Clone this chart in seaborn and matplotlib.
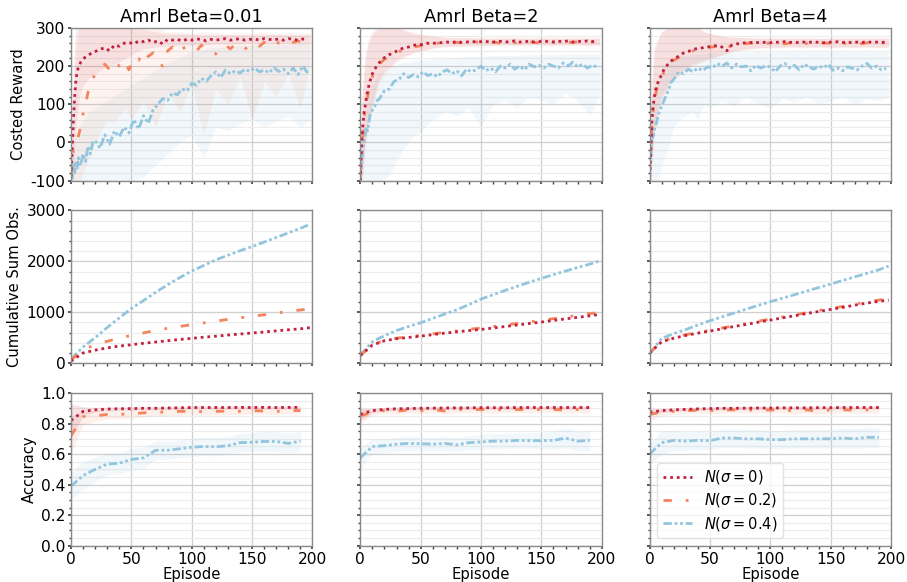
import numpy as np
import pandas as pd
import matplotlib
matplotlib.use("Agg")
import matplotlib.pyplot as plt
from matplotlib.ticker import MultipleLocator
from matplotlib.lines import Line2D
import seaborn as sns

# ---------------- data ----------------
columns = ["Amrl Beta=0.01", "Amrl Beta=2", "Amrl Beta=4"]
series = [r"$N(\sigma=0)$", r"$N(\sigma=0.2)$", r"$N(\sigma=0.4)$"]
row_labels = ["Costed Reward", "Cumulative Sum Obs.", "Accuracy"]

# Costed reward (episode grid)
xr = [0, 1, 2, 3, 4, 5, 6, 8, 10, 12, 14, 16, 18] + list(range(20, 200, 4))
rew_b001_s0 = [-90, -20, 60, 120, 160, 185, 195, 210, 218, 224, 228, 232, 236,
               238, 244, 248, 240, 255, 252, 260, 262, 258, 266, 264, 268, 262, 266, 258, 270,
               268, 270, 266, 270, 268, 271, 270, 266, 270, 268, 270, 272, 268, 270, 272, 268,
               270, 271, 268, 272, 270, 269, 271, 268, 272, 270, 268, 271, 269]
rew_b001_s2 = [-85, -60, -20, -15, -10, 0, 15, 40, 75, 100, 130, 150, 165,
               180, 195, 205, 190, 210, 200, 215, 190, 222, 215, 240, 225, 235, 210, 200, 240,
               250, 235, 245, 252, 248, 240, 255, 245, 235, 232, 248, 255, 245, 258, 250, 244,
               256, 260, 252, 262, 258, 250, 262, 265, 258, 262, 266, 262, 266]
rew_b001_s4 = [-85, -95, -60, -80, -50, -70, -40, -60, -30, -50, -10, -30, 0,
               5, -15, 20, -5, 30, 15, 40, 25, 60, 35, 70, 50, 85, 100, 115, 110,
               130, 125, 140, 135, 155, 150, 168, 160, 175, 185, 170, 190, 180, 188, 182, 192,
               186, 195, 185, 190, 182, 196, 186, 192, 180, 195, 178, 200, 182]
rew_b2_s0 = [-100, -10, 40, 75, 95, 115, 135, 160, 180, 192, 202, 210, 218,
             222, 230, 236, 242, 248, 250, 254, 257, 256, 260, 259, 262, 261, 263, 262, 264,
             262, 263, 265, 263, 264, 265, 262, 264, 265, 263, 264, 266, 263, 264, 265, 263,
             264, 266, 264, 263, 265, 264, 266, 263, 265, 264, 266, 264, 265]
rew_b2_s2 = [-90, -30, 20, 60, 85, 105, 120, 150, 172, 185, 198, 205, 212,
             218, 225, 232, 238, 242, 246, 250, 252, 255, 256, 258, 260, 259, 261, 260, 262,
             261, 262, 260, 263, 262, 261, 263, 262, 260, 263, 262, 261, 263, 262, 264, 262,
             261, 263, 262, 264, 262, 261, 263, 262, 264, 262, 263, 264, 262]
rew_b2_s4 = [-100, -60, -20, 0, 20, 40, 30, 70, 85, 95, 110, 115, 125,
             135, 140, 160, 165, 180, 170, 178, 172, 185, 175, 180, 172, 185, 190, 180, 188,
             175, 192, 185, 190, 200, 188, 195, 185, 200, 195, 205, 192, 200, 190, 205, 198,
             202, 195, 205, 200, 195, 208, 200, 210, 198, 205, 195, 202, 198]
rew_b4_s0 = [-90, -30, 60, 95, 120, 137, 150, 165, 178, 192, 200, 208, 214,
             218, 226, 234, 238, 244, 246, 248, 250, 252, 254, 250, 240, 255, 258, 260, 261,
             262, 261, 263, 262, 261, 263, 262, 264, 262, 263, 261, 263, 262, 264, 262, 261,
             263, 262, 264, 262, 263, 261, 263, 262, 264, 262, 263, 262, 263]
rew_b4_s2 = [-80, -20, 50, 90, 110, 125, 140, 158, 170, 185, 195, 205, 210,
             215, 222, 230, 235, 240, 244, 246, 249, 250, 252, 254, 245, 255, 257, 258, 259,
             260, 258, 260, 259, 261, 259, 260, 258, 261, 259, 260, 258, 261, 260, 259, 261,
             260, 258, 261, 260, 259, 261, 260, 259, 261, 260, 258, 261, 260]
rew_b4_s4 = [-100, -40, 24, 10, 35, 42, 55, 80, 95, 110, 125, 140, 158,
             165, 185, 180, 192, 185, 195, 188, 198, 195, 207, 200, 208, 195, 205, 198, 200,
             188, 202, 195, 200, 198, 185, 200, 207, 195, 202, 190, 205, 198, 192, 200, 195,
             205, 189, 195, 188, 198, 194, 190, 200, 207, 195, 200, 190, 194]

# reward spread bands (lower / upper)
xb = [0, 2, 4, 7, 10, 15, 20, 25, 30, 35, 40, 45, 50, 60, 70, 80, 90, 100,
      110, 120, 130, 140, 150, 160, 170, 180, 190, 198]
rew_b001_s0_lo = [-100, -60, 40, 120, 150, 170, 180, 190, 200, 205, 210, 220, 230, 245,
                  250, 252, 255, 255, 255, 258, 258, 258, 260, 260, 258, 260, 258, 258]
rew_b001_s0_hi = [-40, 180, 300, 300, 300, 300, 300, 300, 300, 300, 300, 300, 300, 295,
                  290, 285, 285, 283, 282, 282, 283, 282, 282, 282, 283, 282, 282, 282]
rew_b001_s2_lo = [-100, -100, -100, -100, -80, -40, 0, 30, 60, 50, 70, 90, 60, 110,
                  40, 130, 80, 150, 20, 140, 100, 170, 60, 160, 120, 180, 90, 200]
rew_b001_s2_hi = [0, 100, 250, 300, 300, 300, 300, 300, 300, 300, 300, 300, 300, 300,
                  300, 290, 290, 285, 290, 288, 285, 288, 286, 290, 285, 288, 285, 288]
rew_b001_s4_lo = [-100, -100, -100, -100, -100, -100, -100, -100, -100, -100, -100, -100, -100, -90,
                  -60, -30, 0, 20, -40, 40, 30, 50, 60, 40, 55, 70, 40, 60]
rew_b001_s4_hi = [-40, -10, 20, 40, 60, 80, 90, 100, 110, 120, 130, 140, 150, 170,
                  190, 210, 220, 240, 245, 250, 250, 255, 255, 258, 255, 258, 260, 255]
rew_b2_s0_lo = [-100, -80, 0, 60, 100, 160, 190, 200, 215, 225, 230, 238, 240, 248,
                252, 253, 254, 255, 255, 256, 255, 256, 256, 255, 256, 256, 255, 256]
rew_b2_s0_hi = [0, 150, 230, 270, 290, 300, 300, 300, 300, 295, 290, 285, 282, 278,
                275, 274, 274, 274, 273, 274, 274, 273, 274, 274, 273, 274, 274, 274]
rew_b2_s2_lo = [-100, -100, -20, 40, 90, 150, 180, 195, 210, 220, 228, 235, 238, 246,
                250, 251, 252, 253, 253, 254, 253, 254, 254, 253, 254, 254, 253, 254]
rew_b2_s2_hi = [-20, 120, 210, 260, 280, 300, 300, 300, 300, 298, 292, 288, 285, 280,
                276, 275, 275, 274, 274, 274, 275, 274, 274, 274, 275, 274, 274, 274]
rew_b2_s4_lo = [-100, -100, -100, -100, -100, -100, -100, -80, -50, -20, 0, 20, 30, 60,
                80, 70, 90, 40, 100, 110, 90, 120, 110, 100, 130, 110, 70, 120]
rew_b2_s4_hi = [-40, 30, 80, 120, 150, 180, 190, 200, 205, 210, 210, 215, 215, 220,
                220, 222, 225, 225, 228, 228, 228, 230, 230, 230, 232, 232, 232, 232]
rew_b4_s0_lo = [-100, -40, 30, 90, 120, 150, 170, 180, 195, 205, 210, 215, 220, 230,
                240, 245, 248, 250, 250, 251, 250, 251, 250, 251, 250, 251, 250, 251]
rew_b4_s0_hi = [-20, 160, 250, 270, 290, 300, 300, 300, 300, 300, 300, 290, 285, 278,
                276, 275, 274, 274, 274, 274, 274, 273, 274, 274, 274, 274, 274, 274]
rew_b4_s2_lo = [-100, -60, 20, 80, 110, 140, 165, 175, 190, 200, 205, 212, 218, 228,
                238, 243, 246, 248, 248, 249, 248, 249, 248, 249, 248, 249, 248, 249]
rew_b4_s2_hi = [-10, 150, 240, 270, 290, 300, 300, 300, 300, 300, 300, 292, 286, 278,
                275, 274, 273, 273, 273, 273, 273, 272, 273, 273, 273, 273, 273, 273]
rew_b4_s4_lo = [-100, -100, -100, -100, -60, -20, 40, 60, 70, 80, 60, 100, 90, 110,
                95, 120, 100, 90, 115, 105, 120, 100, 110, 120, 100, 115, 110, 120]
rew_b4_s4_hi = [-20, 80, 120, 160, 190, 210, 220, 225, 228, 230, 232, 232, 235, 235,
                236, 236, 237, 236, 237, 238, 237, 236, 238, 238, 237, 238, 238, 238]

# Cumulative sum of observations
xc = list(range(0, 200, 10)) + [198]
cum_b001_s0 = [40, 200, 255, 300, 335, 362, 390, 415, 440, 465, 487, 510, 530, 552, 572, 592, 612, 635, 655, 675, 697]
cum_b001_s2 = [60, 263, 360, 430, 490, 546, 595, 640, 685, 720, 757, 790, 825, 860, 890, 921, 950, 985, 1015, 1045, 1066]
cum_b001_s4 = [80, 316, 500, 700, 890, 1072, 1230, 1390, 1540, 1680, 1810, 1920, 2030, 2120, 2210, 2290, 2380, 2470, 2560, 2650, 2730]
cum_b2_s0 = [150, 354, 440, 480, 505, 530, 560, 590, 615, 640, 662, 690, 720, 750, 780, 807, 840, 870, 900, 930, 957]
cum_b2_s2 = [150, 360, 450, 490, 520, 545, 575, 605, 635, 665, 690, 720, 750, 780, 810, 840, 875, 905, 940, 975, 990]
cum_b2_s4 = [157, 420, 540, 640, 720, 793, 880, 965, 1050, 1150, 1259, 1345, 1430, 1510, 1590, 1666, 1740, 1810, 1880, 1945, 2007]
cum_b4_s0 = [200, 420, 490, 545, 590, 630, 675, 720, 760, 805, 846, 890, 930, 975, 1015, 1056, 1095, 1140, 1180, 1215, 1239]
cum_b4_s2 = [200, 430, 500, 560, 605, 645, 690, 735, 780, 825, 865, 905, 950, 990, 1035, 1075, 1115, 1160, 1200, 1240, 1265]
cum_b4_s4 = [180, 485, 580, 660, 750, 833, 910, 985, 1060, 1135, 1207, 1275, 1345, 1415, 1485, 1554, 1625, 1695, 1765, 1835, 1908]

# Accuracy
xa = list(range(0, 200, 10))
acc_b001_s0 = [0.82, 0.88, 0.89, 0.895, 0.897, 0.898, 0.90, 0.90, 0.902, 0.903, 0.905, 0.905, 0.905, 0.905, 0.906, 0.905, 0.906, 0.905, 0.906, 0.906]
acc_b001_s2 = [0.72, 0.845, 0.85, 0.86, 0.86, 0.865, 0.87, 0.875, 0.875, 0.88, 0.88, 0.878, 0.88, 0.882, 0.88, 0.885, 0.882, 0.88, 0.885, 0.885]
acc_b001_s4 = [0.39, 0.46, 0.50, 0.535, 0.54, 0.565, 0.575, 0.625, 0.625, 0.635, 0.645, 0.65, 0.648, 0.655, 0.675, 0.678, 0.683, 0.683, 0.67, 0.685]
acc_b2_s0 = [0.86, 0.885, 0.893, 0.897, 0.898, 0.90, 0.901, 0.902, 0.903, 0.903, 0.904, 0.904, 0.904, 0.905, 0.905, 0.905, 0.905, 0.905, 0.905, 0.905]
acc_b2_s2 = [0.85, 0.875, 0.885, 0.88, 0.89, 0.885, 0.89, 0.883, 0.892, 0.89, 0.893, 0.888, 0.893, 0.892, 0.89, 0.893, 0.893, 0.888, 0.893, 0.89]
acc_b2_s4 = [0.575, 0.65, 0.655, 0.665, 0.67, 0.668, 0.665, 0.67, 0.66, 0.675, 0.68, 0.685, 0.685, 0.69, 0.688, 0.688, 0.69, 0.705, 0.685, 0.69]
acc_b4_s0 = [0.875, 0.885, 0.89, 0.893, 0.896, 0.898, 0.90, 0.90, 0.901, 0.902, 0.902, 0.903, 0.903, 0.903, 0.904, 0.904, 0.905, 0.905, 0.905, 0.905]
acc_b4_s2 = [0.86, 0.875, 0.88, 0.885, 0.887, 0.885, 0.888, 0.89, 0.888, 0.89, 0.889, 0.89, 0.883, 0.89, 0.88, 0.89, 0.89, 0.888, 0.89, 0.89]
acc_b4_s4 = [0.60, 0.675, 0.69, 0.685, 0.69, 0.688, 0.705, 0.705, 0.70, 0.70, 0.695, 0.695, 0.70, 0.70, 0.70, 0.70, 0.705, 0.70, 0.71, 0.71]
# accuracy spread (half width)
acc_b001_s0_sd = [0.11, 0.03, 0.015, 0.012, 0.01, 0.01, 0.01, 0.01, 0.01, 0.01, 0.01, 0.01, 0.01, 0.01, 0.01, 0.01, 0.01, 0.01, 0.01, 0.01]
acc_b001_s2_sd = [0.12, 0.05, 0.035, 0.03, 0.03, 0.03, 0.025, 0.025, 0.025, 0.025, 0.022, 0.022, 0.022, 0.022, 0.022, 0.022, 0.022, 0.022, 0.022, 0.022]
acc_b001_s4_sd = [0.09, 0.09, 0.08, 0.07, 0.07, 0.07, 0.07, 0.06, 0.06, 0.06, 0.06, 0.06, 0.06, 0.06, 0.06, 0.06, 0.065, 0.065, 0.065, 0.065]
acc_b2_s0_sd = [0.04, 0.015, 0.01, 0.01, 0.01, 0.01, 0.01, 0.01, 0.01, 0.01, 0.01, 0.01, 0.01, 0.01, 0.01, 0.01, 0.01, 0.01, 0.01, 0.01]
acc_b2_s2_sd = [0.05, 0.02, 0.02, 0.02, 0.02, 0.02, 0.02, 0.02, 0.02, 0.02, 0.02, 0.02, 0.02, 0.02, 0.02, 0.02, 0.02, 0.02, 0.02, 0.02]
acc_b2_s4_sd = [0.07, 0.05, 0.045, 0.045, 0.045, 0.045, 0.045, 0.045, 0.045, 0.045, 0.05, 0.05, 0.05, 0.05, 0.05, 0.055, 0.06, 0.065, 0.065, 0.065]
acc_b4_s0_sd = [0.02, 0.012, 0.01, 0.01, 0.01, 0.01, 0.01, 0.01, 0.01, 0.01, 0.01, 0.01, 0.01, 0.01, 0.01, 0.01, 0.01, 0.01, 0.01, 0.01]
acc_b4_s2_sd = [0.04, 0.025, 0.02, 0.02, 0.02, 0.02, 0.02, 0.02, 0.02, 0.02, 0.02, 0.02, 0.02, 0.02, 0.02, 0.02, 0.02, 0.02, 0.02, 0.02]
acc_b4_s4_sd = [0.07, 0.08, 0.065, 0.06, 0.06, 0.06, 0.06, 0.06, 0.06, 0.06, 0.06, 0.06, 0.06, 0.06, 0.06, 0.06, 0.065, 0.065, 0.065, 0.065]

# ---------------- style ----------------
sns.set_theme(style="whitegrid")
plt.rcParams.update({
    "font.family": ["DejaVu Sans"],
    "axes.unicode_minus": False,
    "axes.edgecolor": "#8a8a8a",
    "axes.linewidth": 1.0,
    "grid.color": "#cfcfcf",
    "grid.linewidth": 0.9,
    "xtick.bottom": True,
    "ytick.left": True,
    "xtick.color": "#444444",
    "ytick.color": "#444444",
    "xtick.labelcolor": "black",
    "ytick.labelcolor": "black",
    "xtick.major.size": 2.5,
    "ytick.major.size": 2.5,
    "xtick.minor.size": 1.8,
    "ytick.minor.size": 1.8,
    "xtick.major.pad": 2.0,
    "ytick.major.pad": 1.5,
    "xtick.labelsize": 11.2,
    "ytick.labelsize": 11.2,
    "axes.labelsize": 10.6,
    "axes.labelpad": 2,
    "axes.labelcolor": "black",
    "axes.titlesize": 12.8,
    "axes.titlepad": 4,
    "text.color": "black",
    "mathtext.fontset": "dejavusans",
})

colors = ["#c2203f", "#f4845c", "#92c5de"]
styles = [(0, (1, 1.4)), (0, (3, 5, 1, 5)), (0, (3, 1, 1, 1, 1, 1))]

rew = [[rew_b001_s0, rew_b001_s2, rew_b001_s4],
       [rew_b2_s0, rew_b2_s2, rew_b2_s4],
       [rew_b4_s0, rew_b4_s2, rew_b4_s4]]
rew_lo = [[rew_b001_s0_lo, rew_b001_s2_lo, rew_b001_s4_lo],
          [rew_b2_s0_lo, rew_b2_s2_lo, rew_b2_s4_lo],
          [rew_b4_s0_lo, rew_b4_s2_lo, rew_b4_s4_lo]]
rew_hi = [[rew_b001_s0_hi, rew_b001_s2_hi, rew_b001_s4_hi],
          [rew_b2_s0_hi, rew_b2_s2_hi, rew_b2_s4_hi],
          [rew_b4_s0_hi, rew_b4_s2_hi, rew_b4_s4_hi]]
cum = [[cum_b001_s0, cum_b001_s2, cum_b001_s4],
       [cum_b2_s0, cum_b2_s2, cum_b2_s4],
       [cum_b4_s0, cum_b4_s2, cum_b4_s4]]
acc = [[acc_b001_s0, acc_b001_s2, acc_b001_s4],
       [acc_b2_s0, acc_b2_s2, acc_b2_s4],
       [acc_b4_s0, acc_b4_s2, acc_b4_s4]]
acc_sd = [[acc_b001_s0_sd, acc_b001_s2_sd, acc_b001_s4_sd],
          [acc_b2_s0_sd, acc_b2_s2_sd, acc_b2_s4_sd],
          [acc_b4_s0_sd, acc_b4_s2_sd, acc_b4_s4_sd]]

fig, axes = plt.subplots(3, 3, figsize=(9.07, 5.82), dpi=100, sharex=True, sharey="row")
fig.subplots_adjust(left=0.0783, right=0.9824, top=0.952, bottom=0.0624,
                    wspace=0.198, hspace=0.196)

band_alpha = [0.09, 0.09, 0.12]
draw_order = [2, 1, 0]
for c in range(3):
    # reward
    ax = axes[0, c]
    for s in draw_order:
        ax.fill_between(xb, rew_lo[c][s], rew_hi[c][s], color=colors[s], alpha=band_alpha[s], lw=0)
    for s in draw_order:
        sns.lineplot(x=xr, y=rew[c][s], ax=ax, color=colors[s], linestyle=styles[s], lw=2)
    # cumulative
    ax = axes[1, c]
    for s in draw_order:
        sns.lineplot(x=xc, y=cum[c][s], ax=ax, color=colors[s], linestyle=styles[s], lw=2)
    # accuracy
    ax = axes[2, c]
    for s in draw_order:
        m = np.array(acc[c][s]); sd = np.array(acc_sd[c][s])
        ax.fill_between(xa, m - sd, m + sd, color=colors[s], alpha=0.12, lw=0)
    for s in draw_order:
        sns.lineplot(x=xa, y=acc[c][s], ax=ax, color=colors[s], linestyle=styles[s], lw=2)
    axes[0, c].set_title(columns[c])

for r in range(3):
    for c in range(3):
        ax = axes[r, c]
        ax.set_xlim(0, 200)
        ax.xaxis.set_major_locator(MultipleLocator(50))
        ax.xaxis.set_minor_locator(MultipleLocator(10))
        ax.grid(True, which="major", color="#cfcfcf", lw=0.9)
        ax.grid(True, which="minor", axis="y", color="#ececec", lw=0.8)
        ax.grid(False, which="minor", axis="x")
        ax.set_xlabel("Episode" if r == 2 else "", labelpad=0)
        ax.set_ylabel(row_labels[r] if c == 0 else "", labelpad=3)
        if ax.get_legend():
            ax.get_legend().remove()
        ax.tick_params(which="both", direction="out")

axes[0, 0].set_ylim(-100, 300)
axes[0, 0].yaxis.set_major_locator(MultipleLocator(100))
axes[0, 0].yaxis.set_minor_locator(MultipleLocator(20))
axes[1, 0].set_ylim(0, 3000)
axes[1, 0].yaxis.set_major_locator(MultipleLocator(1000))
axes[1, 0].yaxis.set_minor_locator(MultipleLocator(200))
axes[2, 0].set_ylim(0, 1.0)
axes[2, 0].yaxis.set_major_locator(MultipleLocator(0.2))
axes[2, 0].yaxis.set_minor_locator(MultipleLocator(0.05))

handles = [Line2D([], [], color=colors[s], linestyle=styles[s], lw=2) for s in range(3)]
axes[2, 2].legend(handles, series, loc="lower left", fontsize=10.5, frameon=True,
                  framealpha=0.8, edgecolor="#dddddd", handlelength=2.0,
                  labelspacing=0.35, borderpad=0.4)

fig.savefig("out.png", dpi=100)
